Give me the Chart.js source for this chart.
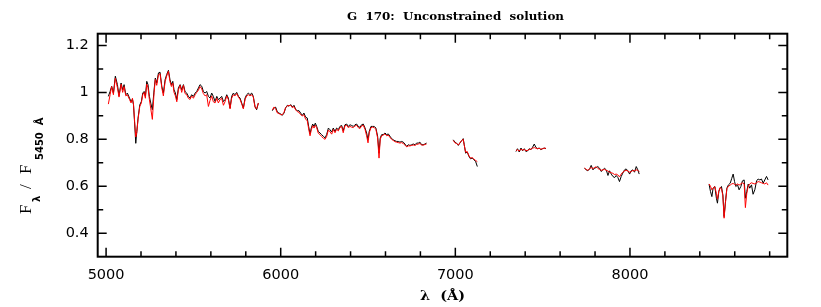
<!DOCTYPE html>
<html>
<head>
<meta charset="utf-8">
<script src="https://cdn.jsdelivr.net/npm/chart.js@4/dist/chart.umd.min.js"></script>
<style>
  html, body { margin: 0; padding: 0; background: #fff; }
  #wrap { width: 821px; height: 307px; }
</style>
</head>
<body>
<div id="wrap"><canvas id="spectrumChart" width="821" height="307"></canvas></div>
<script>
// ======================================================
// Spectrum data (wavelength in Angstrom, normalised flux)
// obs = black observed spectrum, mod = red fitted model
// ======================================================

const wave1 = [5013, 5023, 5032, 5042, 5053, 5065, 5074, 5086, 5095, 5103, 5113, 5122, 5134, 5143, 5151, 5157, 5164, 5170, 5176, 5183,
    5193, 5202, 5210, 5218, 5225, 5233, 5240, 5248, 5256, 5265, 5275, 5282, 5290, 5300, 5309, 5319, 5328, 5338, 5347, 5357,
    5366, 5374, 5382, 5389, 5397, 5405, 5414, 5424, 5433, 5443, 5452, 5462, 5471, 5481, 5490, 5500, 5510, 5519, 5529, 5538,
    5548, 5557, 5567, 5576, 5586, 5595, 5605, 5614, 5624, 5634, 5643, 5653, 5662, 5672, 5681, 5691, 5700, 5710, 5719, 5729,
    5738, 5748, 5758, 5767, 5777, 5786, 5796, 5805, 5815, 5824, 5834, 5843, 5853, 5862, 5872];
const obs1 = [0.983, 1.004, 1.026, 0.997, 1.069, 1.033, 0.986, 1.040, 1.011, 1.033, 0.990, 0.997, 0.976, 0.961, 0.971, 0.947, 0.861, 0.783, 0.833, 0.890,
    0.947, 0.961, 0.997, 1.004, 0.983, 1.047, 1.033, 0.983, 0.954, 0.926, 1.011, 1.061, 1.040, 1.083, 1.086, 1.026, 0.997, 1.054, 1.076, 1.094,
    1.054, 1.033, 1.047, 1.011, 0.997, 0.969, 1.019, 1.033, 1.011, 1.033, 1.004, 0.997, 0.983, 0.976, 0.990, 0.983, 0.997, 1.004, 1.019, 1.033,
    1.026, 1.004, 0.997, 1.004, 0.983, 0.976, 0.997, 0.983, 0.961, 0.983, 0.969, 0.976, 0.983, 0.961, 0.969, 0.990, 0.976, 0.933, 0.983, 0.997,
    0.990, 1.000, 0.983, 0.976, 0.954, 0.933, 0.976, 0.990, 0.997, 0.990, 0.997, 0.983, 0.940, 0.926, 0.954];
const mod1 = [0.950, 0.990, 1.025, 0.990, 1.060, 1.020, 0.980, 1.035, 1.000, 1.025, 0.985, 0.990, 0.970, 0.955, 0.975, 0.950, 0.870, 0.810, 0.830, 0.885,
    0.940, 0.955, 0.990, 1.000, 0.975, 1.035, 1.020, 0.970, 0.930, 0.885, 1.000, 1.055, 1.030, 1.075, 1.080, 1.020, 0.985, 1.045, 1.070, 1.090,
    1.045, 1.025, 1.040, 1.000, 0.985, 0.960, 1.010, 1.030, 1.000, 1.030, 0.995, 0.990, 0.975, 0.970, 0.985, 0.975, 0.990, 1.000, 1.010, 1.025,
    1.015, 0.995, 0.985, 0.990, 0.940, 0.965, 0.985, 0.960, 0.955, 0.975, 0.955, 0.970, 0.975, 0.945, 0.960, 0.985, 0.970, 0.930, 0.975, 0.990,
    0.985, 0.995, 0.980, 0.970, 0.950, 0.930, 0.970, 0.985, 0.990, 0.985, 0.990, 0.980, 0.935, 0.930, 0.955];

const wave2 = [5952, 5962, 5971, 5981, 5990, 6000, 6009, 6019, 6028, 6038, 6048, 6057, 6067, 6076, 6086, 6095, 6105, 6114, 6124, 6133,
    6143, 6152, 6160, 6168, 6175, 6183, 6191, 6198, 6206, 6215, 6225, 6234, 6244, 6254, 6263, 6273, 6282, 6292, 6301, 6311,
    6320, 6330, 6339, 6349, 6358, 6368, 6378, 6387, 6397, 6406, 6416, 6425, 6435, 6444, 6454, 6463, 6473, 6483, 6492, 6500,
    6507, 6517, 6526, 6536, 6545, 6555, 6563, 6570, 6578, 6587, 6597, 6607, 6616, 6626, 6635, 6645, 6654, 6664, 6673, 6683,
    6692, 6702, 6711, 6721, 6731, 6740, 6750, 6759, 6769, 6778, 6788, 6797, 6807, 6816, 6826, 6835];
const obs2 = [0.922, 0.934, 0.937, 0.916, 0.912, 0.908, 0.902, 0.912, 0.934, 0.945, 0.941, 0.948, 0.937, 0.945, 0.927, 0.922, 0.922, 0.912, 0.902, 0.912,
    0.894, 0.891, 0.855, 0.823, 0.848, 0.865, 0.855, 0.869, 0.855, 0.834, 0.827, 0.820, 0.813, 0.806, 0.820, 0.848, 0.841, 0.831, 0.848, 0.834,
    0.848, 0.841, 0.855, 0.859, 0.837, 0.862, 0.865, 0.855, 0.862, 0.859, 0.855, 0.862, 0.865, 0.855, 0.851, 0.862, 0.865, 0.848, 0.827, 0.798,
    0.834, 0.855, 0.855, 0.855, 0.848, 0.813, 0.741, 0.806, 0.820, 0.820, 0.827, 0.820, 0.823, 0.813, 0.803, 0.798, 0.794, 0.791, 0.791, 0.788,
    0.791, 0.788, 0.780, 0.770, 0.777, 0.774, 0.777, 0.780, 0.777, 0.784, 0.784, 0.788, 0.777, 0.777, 0.780, 0.784];
const mod2 = [0.925, 0.938, 0.930, 0.912, 0.910, 0.905, 0.905, 0.915, 0.935, 0.942, 0.944, 0.945, 0.935, 0.940, 0.925, 0.918, 0.915, 0.905, 0.900, 0.905,
    0.885, 0.880, 0.845, 0.815, 0.840, 0.858, 0.848, 0.860, 0.850, 0.826, 0.820, 0.812, 0.805, 0.800, 0.812, 0.840, 0.832, 0.822, 0.842, 0.828,
    0.843, 0.836, 0.850, 0.855, 0.828, 0.858, 0.860, 0.850, 0.855, 0.852, 0.850, 0.857, 0.860, 0.850, 0.846, 0.857, 0.860, 0.842, 0.815, 0.785,
    0.828, 0.850, 0.852, 0.850, 0.843, 0.805, 0.720, 0.800, 0.815, 0.818, 0.823, 0.815, 0.818, 0.808, 0.800, 0.795, 0.790, 0.788, 0.786, 0.784,
    0.786, 0.782, 0.776, 0.768, 0.772, 0.772, 0.774, 0.776, 0.774, 0.778, 0.780, 0.782, 0.776, 0.775, 0.778, 0.780];

const wave3 = [6988, 6998, 7007, 7017, 7026, 7036, 7045, 7051, 7059, 7068, 7078, 7087, 7097, 7106, 7116, 7126];
const obs3 = [0.798, 0.788, 0.784, 0.774, 0.784, 0.794, 0.803, 0.777, 0.741, 0.746, 0.727, 0.717, 0.720, 0.713, 0.706, 0.684];
const mod3 = [0.795, 0.785, 0.782, 0.776, 0.785, 0.795, 0.800, 0.775, 0.745, 0.748, 0.730, 0.720, 0.722, 0.716, 0.710, 0.705];

const wave4 = [7347, 7356, 7366, 7376, 7385, 7395, 7404, 7414, 7423, 7433, 7442, 7452, 7461, 7471, 7480, 7490, 7499, 7509, 7519];
const obs4 = [0.748, 0.760, 0.746, 0.763, 0.751, 0.760, 0.748, 0.751, 0.760, 0.756, 0.766, 0.780, 0.766, 0.760, 0.763, 0.756, 0.760, 0.763, 0.760];
const mod4 = [0.752, 0.756, 0.750, 0.758, 0.754, 0.757, 0.752, 0.753, 0.757, 0.758, 0.762, 0.765, 0.762, 0.760, 0.762, 0.758, 0.760, 0.762, 0.762];

const wave5 = [7740, 7749, 7759, 7769, 7778, 7788, 7797, 7807, 7816, 7826, 7835, 7845, 7854, 7864, 7874, 7883, 7893, 7902, 7912, 7921,
    7931, 7940, 7950, 7959, 7969, 7978, 7988, 7998, 8007, 8017, 8026, 8036, 8045, 8053];
const obs5 = [0.677, 0.670, 0.666, 0.674, 0.689, 0.670, 0.677, 0.680, 0.684, 0.677, 0.663, 0.670, 0.677, 0.670, 0.646, 0.666, 0.652, 0.642, 0.637, 0.646,
    0.637, 0.620, 0.642, 0.656, 0.670, 0.674, 0.666, 0.652, 0.666, 0.670, 0.660, 0.684, 0.670, 0.652];
const mod5 = [0.678, 0.672, 0.668, 0.675, 0.680, 0.675, 0.680, 0.683, 0.676, 0.672, 0.668, 0.670, 0.672, 0.668, 0.665, 0.660, 0.658, 0.655, 0.650, 0.652,
    0.648, 0.640, 0.652, 0.660, 0.665, 0.668, 0.665, 0.660, 0.662, 0.668, 0.665, 0.670, 0.668, 0.662];

const wave6 = [8453, 8461, 8469, 8476, 8486, 8495, 8501, 8509, 8516, 8524, 8532, 8539, 8547, 8555, 8564, 8574, 8583, 8591, 8599, 8606,
    8616, 8625, 8635, 8644, 8654, 8661, 8669, 8677, 8686, 8696, 8705, 8715, 8725, 8734, 8744, 8753, 8763, 8772, 8782, 8791];
const obs6 = [0.609, 0.578, 0.556, 0.592, 0.599, 0.549, 0.528, 0.578, 0.592, 0.599, 0.563, 0.471, 0.535, 0.592, 0.606, 0.613, 0.634, 0.652, 0.620, 0.599,
    0.606, 0.585, 0.599, 0.623, 0.627, 0.549, 0.578, 0.609, 0.592, 0.606, 0.566, 0.585, 0.623, 0.631, 0.627, 0.631, 0.613, 0.627, 0.642, 0.627];
const mod6 = [0.610, 0.600, 0.585, 0.592, 0.598, 0.570, 0.545, 0.580, 0.595, 0.590, 0.560, 0.464, 0.530, 0.590, 0.600, 0.605, 0.610, 0.612, 0.608, 0.605,
    0.610, 0.605, 0.610, 0.615, 0.610, 0.509, 0.570, 0.600, 0.610, 0.615, 0.612, 0.610, 0.615, 0.620, 0.618, 0.615, 0.612, 0.610, 0.615, 0.605];

// Axis ticks
const xTickLabels = [5000, 6000, 7000, 8000];
const yTickLabels = [0.4, 0.6, 0.8, 1, 1.2];

const waves = [wave1, wave2, wave3, wave4, wave5, wave6];
const observed = [obs1, obs2, obs3, obs4, obs5, obs6];
const model = [mod1, mod2, mod3, mod4, mod5, mod6];

// ======================================================
// Build one dataset per spectral segment
// ======================================================

function segmentDataset(w, f, color, order) {
    return {
        data: w.map((x, i) => ({ x: x, y: f[i] })),
        borderColor: color,
        borderWidth: 1,
        pointRadius: 0,
        fill: false,
        tension: 0,
        order: order
    };
}

const datasets = [];
waves.forEach((w, i) => {
    datasets.push(segmentDataset(w, observed[i], "#000000", 2));
    datasets.push(segmentDataset(w, model[i], "#ff0000", 1));
});

// ======================================================
// Frame, inward ticks and titles (PGPLOT style)
// ======================================================

function fitText(ctx, text, cx, baseline, width) {
    const w = ctx.measureText(text).width;
    ctx.save();
    ctx.translate(cx, baseline);
    ctx.scale(width / w, 1);
    ctx.textAlign = "center";
    ctx.fillText(text, 0, 0);
    ctx.restore();
}

const framePlugin = {
    id: "frame",
    afterDraw(chart) {
        const { ctx, chartArea: a, scales: { x, y } } = chart;
        ctx.save();

        ctx.strokeStyle = "#000";
        ctx.lineWidth = 1.5;
        ctx.beginPath();
        for (let v = 5000; v <= 8800; v += 200) {
            const px = x.getPixelForValue(v);
            const len = v % 1000 === 0 ? 9 : 5.5;
            ctx.moveTo(px, a.bottom); ctx.lineTo(px, a.bottom - len);
            ctx.moveTo(px, a.top); ctx.lineTo(px, a.top + len);
        }
        for (let k = 4; k <= 12; k++) {
            const py = y.getPixelForValue(k / 10);
            const len = k % 2 === 0 ? 9 : 5.5;
            ctx.moveTo(a.left, py); ctx.lineTo(a.left + len, py);
            ctx.moveTo(a.right, py); ctx.lineTo(a.right - len, py);
        }
        ctx.stroke();

        ctx.lineWidth = 2;
        ctx.strokeRect(a.left, a.top, a.right - a.left, a.bottom - a.top);

        // title
        ctx.fillStyle = "#000";
        ctx.textBaseline = "alphabetic";
        ctx.font = "bold 11px 'DejaVu Serif'";
        fitText(ctx, "G  170:  Unconstrained  solution", 455.5, 19.5, 217);

        // x axis title
        ctx.font = "bold 13px 'DejaVu Serif'";
        fitText(ctx, "λ  (Å)", 442.5, 300, 45);

        // y axis title, rotated
        ctx.translate(31, 214);
        ctx.rotate(-Math.PI / 2);
        ctx.textAlign = "left";
        ctx.font = "17px 'Liberation Serif'";
        ctx.fillText("F", 0, 0);
        ctx.font = "bold 10px 'DejaVu Sans'";
        ctx.fillText("λ", 12, 9);
        ctx.font = "17px 'Liberation Serif'";
        ctx.fillText("/", 25, 0);
        ctx.fillText("F", 40, 0);
        ctx.font = "bold 10px 'DejaVu Sans'";
        ctx.fillText("5450  Å", 54, 12);

        ctx.restore();
    }
};

// ======================================================
// Chart
// ======================================================

new Chart(document.querySelector("#spectrumChart"), {
    type: "line",
    data: { datasets: datasets },
    options: {
        responsive: false,
        animation: false,
        devicePixelRatio: 1,
        layout: { padding: { top: 33.7, right: 33.7, left: 0, bottom: 0 } },
        plugins: {
            legend: { display: false },
            tooltip: { enabled: false },
            title: { display: false }
        },
        scales: {
            x: {
                type: "linear",
                min: 4952,
                max: 8901,
                grid: { display: false, drawTicks: false },
                border: { display: false },
                afterFit: (s) => { s.height = 50.3; },
                afterBuildTicks: (s) => { s.ticks = xTickLabels.map(v => ({ value: v })); },
                ticks: {
                    padding: 10,
                    color: "#000",
                    font: { family: "'DejaVu Sans'", size: 14.5 },
                    maxRotation: 0,
                    callback: (v) => String(v)
                }
            },
            y: {
                type: "linear",
                min: 0.3,
                max: 1.25,
                grid: { display: false, drawTicks: false },
                border: { display: false },
                afterFit: (s) => { s.width = 97.7; },
                afterBuildTicks: (s) => { s.ticks = yTickLabels.map(v => ({ value: v })); },
                ticks: {
                    padding: 9,
                    color: "#000",
                    font: { family: "'DejaVu Sans'", size: 14.5 },
                    callback: (v) => String(v)
                }
            }
        }
    },
    plugins: [framePlugin]
});
</script>
</body>
</html>
